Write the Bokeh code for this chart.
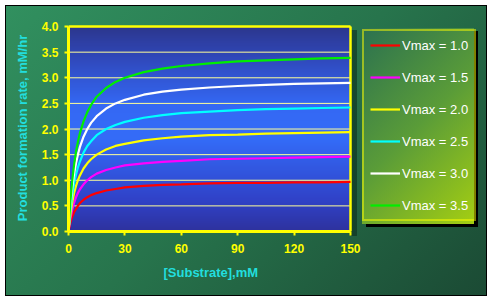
import numpy as np
from bokeh.plotting import figure
from bokeh.models import (Range1d, Legend, LegendItem, FixedTicker,
                          PrintfTickFormatter, Title)
from bokeh.embed import file_html
from bokeh.resources import INLINE

# ---- data ----
substrate = [0, 1, 2, 3, 4, 5, 6, 8, 10, 12, 15, 20, 25, 30, 40, 50, 60,
             75, 90, 105, 120, 135, 150]
rate_vmax_10 = [0, 0.17, 0.29, 0.38, 0.44, 0.50, 0.55, 0.62, 0.67, 0.71, 0.75,
                0.80, 0.83, 0.86, 0.89, 0.91, 0.92, 0.94, 0.95, 0.95, 0.96,
                0.96, 0.97]
rate_vmax_15 = [0, 0.25, 0.43, 0.56, 0.67, 0.75, 0.82, 0.92, 1.00, 1.06, 1.13,
                1.20, 1.25, 1.29, 1.33, 1.36, 1.38, 1.41, 1.42, 1.43, 1.44,
                1.45, 1.46]
rate_vmax_20 = [0, 0.33, 0.57, 0.75, 0.89, 1.00, 1.09, 1.23, 1.33, 1.41, 1.50,
                1.60, 1.67, 1.71, 1.78, 1.82, 1.85, 1.88, 1.89, 1.91, 1.92,
                1.93, 1.94]
rate_vmax_25 = [0, 0.42, 0.71, 0.94, 1.11, 1.25, 1.36, 1.54, 1.67, 1.76, 1.88,
                2.00, 2.08, 2.14, 2.22, 2.27, 2.31, 2.34, 2.37, 2.39, 2.40,
                2.41, 2.42]
rate_vmax_30 = [0, 0.50, 0.86, 1.13, 1.33, 1.50, 1.64, 1.85, 2.00, 2.12, 2.25,
                2.40, 2.50, 2.57, 2.67, 2.73, 2.77, 2.81, 2.84, 2.86, 2.88,
                2.89, 2.90]
rate_vmax_35 = [0, 0.58, 1.00, 1.31, 1.56, 1.75, 1.91, 2.15, 2.33, 2.47, 2.63,
                2.80, 2.92, 3.00, 3.11, 3.18, 3.23, 3.28, 3.32, 3.34, 3.36,
                3.38, 3.39]
series_labels = ["Vmax = 1.0", "Vmax = 1.5", "Vmax = 2.0",
                 "Vmax = 2.5", "Vmax = 3.0", "Vmax = 3.5"]
series_values = [rate_vmax_10, rate_vmax_15, rate_vmax_20,
                 rate_vmax_25, rate_vmax_30, rate_vmax_35]
series_colors = ["#ff0000", "#ff00ff", "#ffff00", "#00ffff", "#ffffff", "#00ee00"]
x_ticks = [0, 30, 60, 90, 120, 150]
y_ticks = [0.0, 0.5, 1.0, 1.5, 2.0, 2.5, 3.0, 3.5, 4.0]
x_min, x_max = 0, 150
y_min, y_max = 0.0, 4.0

FONT = "Liberation Sans"

# frame is widened to the right so the legend can sit inside it;
# the axis/grid are bounded to the data extent 0..150
FRAME_L, DATA_R, FRAME_R = 68, 350, 482
x_end = x_max * (FRAME_R - FRAME_L) / (DATA_R - FRAME_L)
y_end = y_max * 1.01

p = figure(width=492, height=302, output_backend="svg", toolbar_location=None,
           x_range=Range1d(x_min, x_end), y_range=Range1d(y_min, y_end),
           min_border_left=FRAME_L, min_border_right=492 - FRAME_R,
           min_border_top=24, min_border_bottom=71)

p.border_fill_color = None
p.background_fill_color = None
p.outline_line_color = None

# page-level decoration: white margin, black frame, green gradient, shadows, legend gradient
p.styles = {
    "background": ", ".join([
        "linear-gradient(135deg, #2b7150 0%, #5a9c38 50%, #a4ce12 100%) 362px 28px / 112px 196px no-repeat",
        "linear-gradient(#000, #000) 366px 31px / 112px 196px no-repeat",
        "linear-gradient(rgba(10,40,25,0.55), rgba(10,40,25,0.55)) 351px 30px / 6px 206px no-repeat",
        "linear-gradient(135deg, #31905f 0%, #27744c 50%, #1b4a34 100%) 6px 6px / 480px 289px no-repeat",
        "linear-gradient(#000, #000) 5px 5px / 482px 291px no-repeat",
        "#ffffff",
    ])
}

# plot-area vertical gradient
n = 200
t = np.linspace(0, 1, n)  # 0 bottom -> 1 top
stops_t = [0.0, 0.15, 0.45, 0.62, 0.85, 1.0]
stops_c = np.array([[46, 50, 158], [48, 66, 200], [52, 108, 248],
                    [52, 104, 244], [48, 72, 186], [44, 54, 140]], dtype=float)
rgb = np.stack([np.interp(t, stops_t, stops_c[:, k]) for k in range(3)], axis=1)
img = np.zeros((n, 1), dtype=np.uint32)
view = img.view(dtype=np.uint8).reshape((n, 1, 4))
view[:, 0, 0] = rgb[:, 0].astype(np.uint8)
view[:, 0, 1] = rgb[:, 1].astype(np.uint8)
view[:, 0, 2] = rgb[:, 2].astype(np.uint8)
view[:, 0, 3] = 255
p.image_rgba(image=[img], x=x_min, y=y_min, dw=x_max - x_min, dh=y_max - y_min,
             level="image")

# horizontal grid lines limited to the data area
p.xgrid.visible = False
p.ygrid.visible = False
p.segment(x0=[x_min] * len(y_ticks), y0=y_ticks, x1=[x_max] * len(y_ticks), y1=y_ticks,
          line_color="#ffff99", line_width=1, level="underlay")

# plot-area top and right border
p.segment(x0=[x_min, x_max], y0=[y_max, y_min], x1=[x_max, x_max], y1=[y_max, y_max],
          line_color="#ffff00", line_width=2.5)

# axes
for ax in (p.xaxis[0], p.yaxis[0]):
    ax.axis_line_color = "#ffff00"
    ax.axis_line_width = 3
    ax.major_tick_line_color = "#ffff00"
    ax.major_tick_line_width = 2
    ax.major_tick_out = 4
    ax.major_tick_in = 0
    ax.minor_tick_line_color = None
    ax.major_label_text_color = "#ffff00"
    ax.major_label_text_font = FONT
    ax.major_label_text_font_style = "bold"
    ax.major_label_text_font_size = "12px"
    ax.axis_label_text_color = "#22dede"
    ax.axis_label_text_font = FONT
    ax.axis_label_text_font_style = "bold"
    ax.axis_label_text_font_size = "13px"

p.xaxis.bounds = (x_min, x_max)
p.yaxis.bounds = (y_min, y_max)
p.xaxis.ticker = FixedTicker(ticks=x_ticks)
p.yaxis.ticker = FixedTicker(ticks=y_ticks)
p.yaxis.formatter = PrintfTickFormatter(format="%.1f")
p.yaxis.axis_label = "Product formation rate, mM/hr"
p.xaxis.major_label_standoff = 8
p.yaxis.major_label_standoff = 6
p.yaxis.axis_label_standoff = 9

# x-axis title, centred under the 0..150 data area
xtitle = Title(text="[Substrate],mM", align="left", offset=163 - FRAME_L,
               text_color="#22dede", text_font=FONT, text_font_style="bold",
               text_font_size="13px", standoff=14)
p.add_layout(xtitle, "below")

# curves
items = []
for lab, vals, col in zip(series_labels, series_values, series_colors):
    r = p.line(substrate, vals, line_color=col, line_width=2.2)
    items.append(LegendItem(label=lab, renderers=[r]))

legend = Legend(items=items, location=(362 - FRAME_L, 10))
legend.background_fill_alpha = 0
legend.border_line_color = "#ffff00"
legend.border_line_width = 2
legend.padding = 6
legend.margin = 0
legend.spacing = 16
legend.glyph_width = 30
legend.glyph_height = 16
legend.label_height = 16
legend.label_standoff = 2
legend.label_text_color = "#ffffff"
legend.label_text_font = FONT
legend.label_text_font_size = "13px"
p.add_layout(legend, "center")

open("out.html", "w").write(file_html(p, INLINE))
